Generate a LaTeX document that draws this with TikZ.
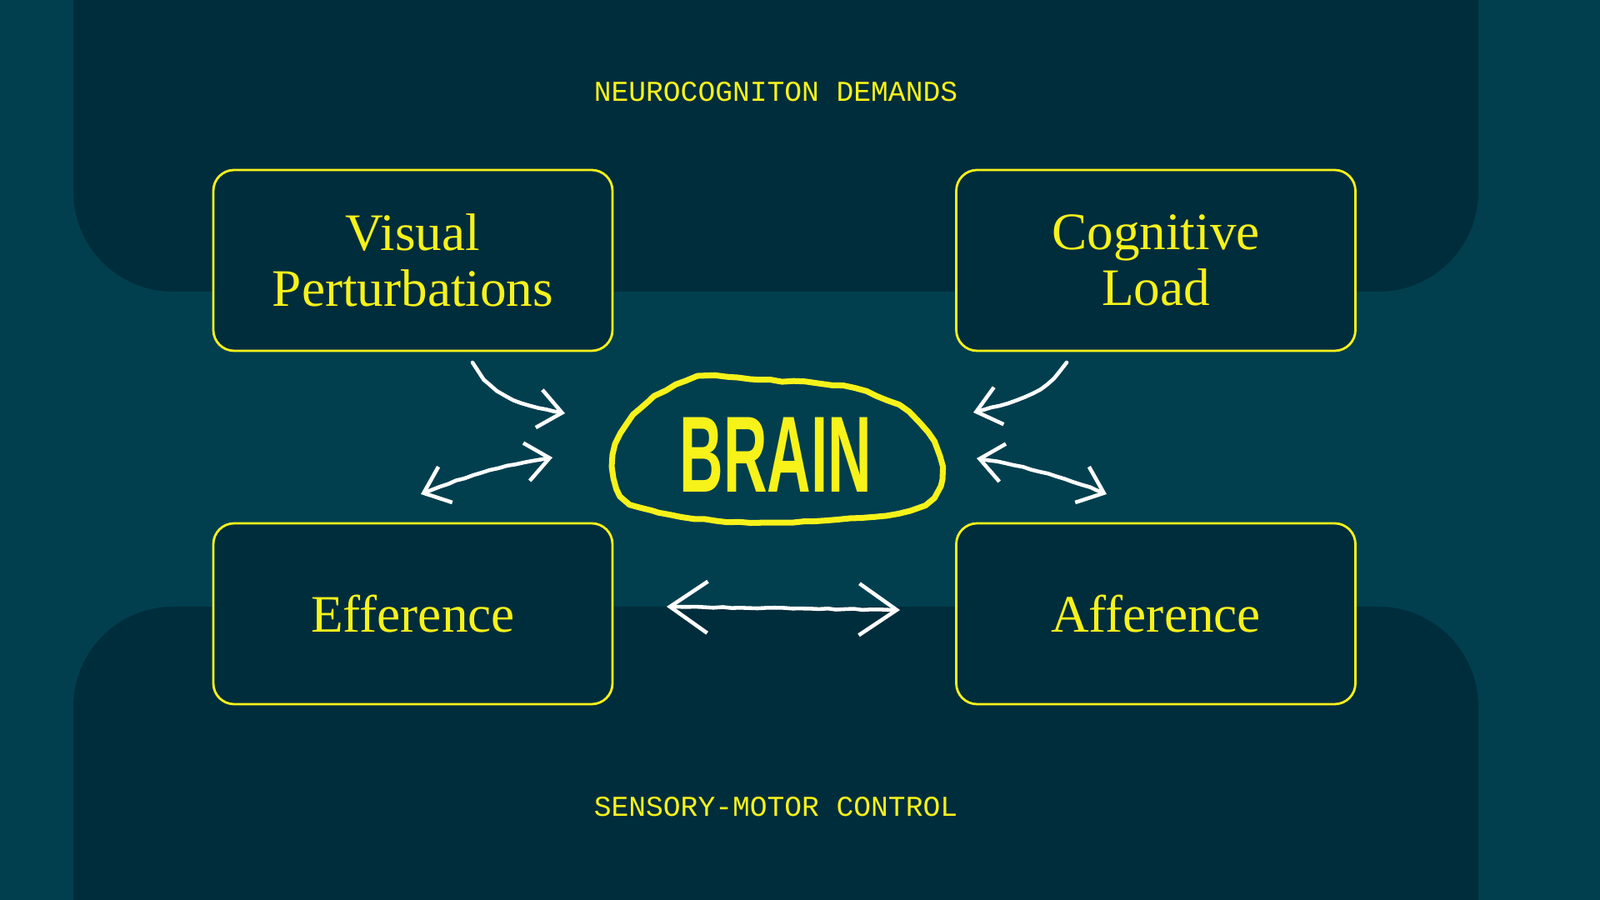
\documentclass[tikz,border=0pt]{standalone}
\usepackage{fontspec}
\usepackage{xcolor}
\usepackage{graphicx}
\usepackage{tikz}
\usetikzlibrary{arrows.meta,decorations.pathmorphing}
\setmainfont{Liberation Serif}
\newfontfamily\monofont{Liberation Mono}
\newfontfamily\brainfont{Liberation Sans}
\definecolor{deepteal}{HTML}{013F4F}
\definecolor{panelblue}{HTML}{002D3C}
\definecolor{hiyellow}{HTML}{F7F21A}
\tikzset{box/.style={rectangle,rounded corners=0.25cm,draw=hiyellow,fill=panelblue,line width=0.8pt,minimum width=4.79cm,minimum height=2.17cm,text=hiyellow,align=center,font=\fontsize{18}{19}\selectfont}}
\tikzset{heading/.style={text=hiyellow,font=\monofont\fontsize{9.85}{12}\selectfont}}
\tikzset{chalk/.style={white,line width=1.3pt,line cap=round,line join=round,decorate,decoration={random steps,segment length=3pt,amplitude=0.2pt,pre length=4pt,post length=4pt}}}
\tikzset{blob/.style={hiyellow,line width=2pt,line join=round,decorate,decoration={random steps,segment length=4pt,amplitude=0.35pt}}}

\begin{document}
\begin{tikzpicture}[>={Straight Barb[length=2.8mm,width=4.6mm]}]
        \useasboundingbox (0,0) rectangle (19.2,10.8);
        \fill[deepteal] (0,0) rectangle (19.2,10.8);
        \fill[panelblue] (0.88,10.8) -- (0.88,8.50) arc[start angle=180,end angle=270,radius=1.2] -- (16.54,7.30) arc[start angle=270,end angle=360,radius=1.2] -- (17.74,10.8) -- cycle;
        \fill[panelblue] (0.88,0) -- (0.88,2.32) arc[start angle=180,end angle=90,radius=1.2] -- (16.54,3.52) arc[start angle=90,end angle=0,radius=1.2] -- (17.74,0) -- cycle;

        \node[heading] (demands)at (9.31,9.70) {NEUROCOGNITON DEMANDS};
        \node[heading] (control)at (9.31,1.12) {SENSORY-MOTOR CONTROL};
        \node[box] (vis)at (4.955,7.675) {Visual\\Perturbations};
        \node[box] (cog)at (13.87,7.675) {Cognitive\\Load};
        \node[box] (eff)at (4.955,3.435) {Efference};
        \node[box] (aff)at (13.87,3.435) {Afference};
        \node[text=hiyellow] (brain)at (9.31,5.34) {\scalebox{0.56}[1]{\brainfont\bfseries\fontsize{37}{37}\selectfont BRAIN}};
        \draw [blob] plot[smooth cycle] coordinates {(8.37,6.27) (7.80,6.00) (7.45,5.60) (7.35,5.20) (7.45,4.85) (7.90,4.65) (8.60,4.55) (9.50,4.53) (10.50,4.60) (11.10,4.75) (11.30,5.05) (11.20,5.50) (10.90,5.85) (10.40,6.10) (9.80,6.20) (9.00,6.25)};

        \coordinate (vpa) at (5.67,6.45);
        \coordinate (vpb) at (6.78,5.84);
        \coordinate (efa) at (5.05,4.87);
        \coordinate (efb) at (6.63,5.31);
        \coordinate (cla) at (12.80,6.45);
        \coordinate (clb) at (11.68,5.85);
        \coordinate (afa) at (11.72,5.30);
        \coordinate (afb) at (13.28,4.87);
        \coordinate (mida) at (8.00,3.52);
        \coordinate (midb) at (10.80,3.48);

        \draw [chalk,->] (vpa) to [out=-60,in=170] (vpb);
        \draw [chalk,<->] (efa) to [bend left=6] (efb);
        \draw [chalk,->] (cla) to [out=-125,in=15] (clb);
        \draw [chalk,<->] (afa) to [bend left=6] (afb);
        \draw [chalk,<->,>={Straight Barb[length=4.5mm,width=6.2mm]}] (mida) -- (midb);
    \end{tikzpicture}
\end{document}
